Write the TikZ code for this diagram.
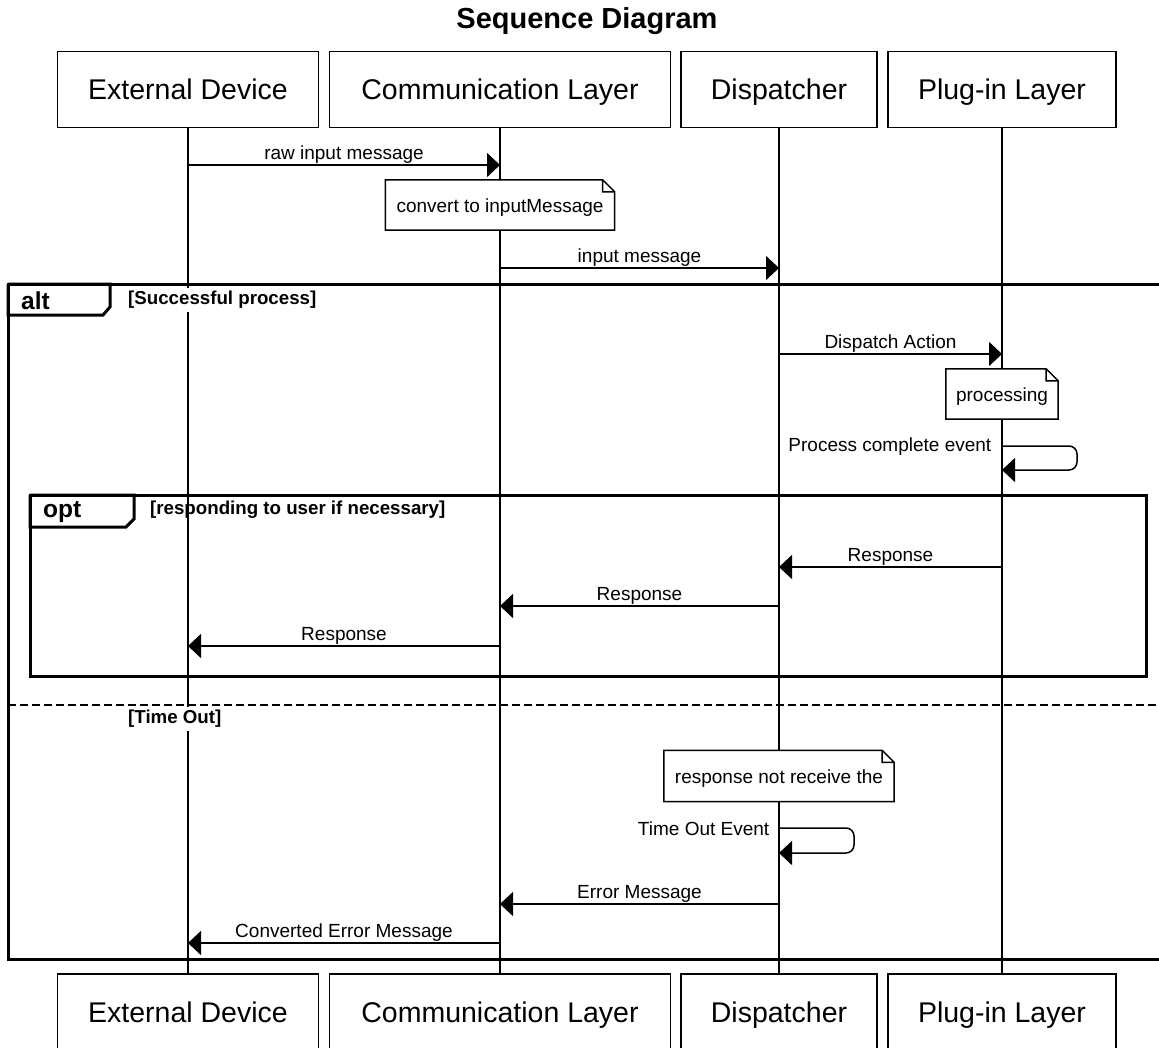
\documentclass[tikz,border=0pt]{standalone}
\usepackage{fontspec}
\setmainfont{Liberation Sans}
\usetikzlibrary{arrows.meta}

% folded outline of a note node
\newcommand\notefold[1]{%
  \draw[line width=1.5] (#1.north west) -- ([xshift=-12]#1.north east) -- ([yshift=-12]#1.north east)
    -- (#1.south east) -- (#1.south west) -- cycle
    ([xshift=-12]#1.north east) |- ([yshift=-12]#1.north east);}

\tikzset{
  actor/.style={draw, line width=1.5, minimum height=76, inner sep=0, text height=20.5, text depth=0,
    font=\fontsize{28.5}{32}\selectfont},
  lifeline/.style={line width=1.5},
  msg/.style={line width=1.5, -{Triangle[length=13pt,width=24pt]}},
  msglabel/.style={font=\fontsize{19}{22}\selectfont, inner sep=1},
  note/.style={fill=white, minimum height=50, inner sep=0, text height=14, text depth=0,
    font=\fontsize{19}{22}\selectfont},
  frame/.style={line width=3},
  tablabel/.style={font=\bfseries\fontsize{24.5}{28}\selectfont, inner sep=3},
  guard/.style={font=\bfseries\fontsize{18.7}{22}\selectfont, inner sep=3}
}

\begin{document}
\begin{tikzpicture}[x=1pt, y=-1pt]
    \useasboundingbox (0,0) rectangle (1159,1047);

    \node[font=\bfseries\fontsize{29}{33}\selectfont] (title) at (587,21) {Sequence Diagram};

    % participants, top and bottom
    \node[actor, minimum width=261] (ext) at (188,89.5) {External Device};
    \node[actor, minimum width=341] (comm) at (500,89.5) {Communication Layer};
    \node[actor, minimum width=196] (disp) at (779,89.5) {Dispatcher};
    \node[actor, minimum width=228] (plug) at (1002,89.5) {Plug-in Layer};
    \node[actor, minimum width=261] (ext2) at (188,1012) {External Device};
    \node[actor, minimum width=341] (comm2) at (500,1012) {Communication Layer};
    \node[actor, minimum width=196] (disp2) at (779,1012) {Dispatcher};
    \node[actor, minimum width=228] (plug2) at (1002,1012) {Plug-in Layer};

    \draw[lifeline] (ext) -- (ext2);
    \draw[lifeline] (comm) -- (comm2);
    \draw[lifeline] (disp) -- (disp2);
    \draw[lifeline] (plug) -- (plug2);

    % message rows
    \coordinate (raw) at (0,165);
    \coordinate (input) at (0,268);
    \coordinate (dispatch) at (0,354);
    \coordinate (pce) at (0,446);
    \coordinate (pce-back) at (0,470);
    \coordinate (resp1) at (0,567);
    \coordinate (resp2) at (0,606);
    \coordinate (resp3) at (0,646);
    \coordinate (tout) at (0,828);
    \coordinate (tout-back) at (0,853);
    \coordinate (err) at (0,904);
    \coordinate (converr) at (0,943);

    % alt frame
    \coordinate (alt-nw) at (8,284);
    \coordinate (alt-se) at (1180,959);
    \draw[frame] (alt-nw) rectangle (alt-se);
    \draw[frame] (alt-nw) -| ++(102,23) -- ++(-7,8) -| (alt-nw);
    \node[tablabel, anchor=west] (alt) at (18,301) {alt};
    \node[guard, anchor=west, fill=white] (success) at (125,300) {[Successful process]};
    \draw[frame, line width=2.5, dash pattern=on 8pt off 4pt] (8,705) coordinate (else-w) -- (1180,705) coordinate (else-e);
    \node[guard, anchor=west, fill=white] (timeout) at (125,719) {[Time Out]};

    % opt frame
    \coordinate (opt-nw) at (30,495);
    \coordinate (opt-se) at (1146,676);
    \draw[frame] (opt-nw) rectangle (opt-se);
    \draw[frame] (opt-nw) -| ++(104,24) -- ++(-8,8) -| (opt-nw);
    \node[tablabel, anchor=west] (opt) at (40,512) {opt};
    \node[guard, anchor=west] (responding) at (147,510) {[responding to user if necessary]};

    % notes
    \node[note, minimum width=229] (convert) at (500,205) {convert to inputMessage};
    \notefold{convert}
    \node[note, minimum width=112] (processing) at (1002,394) {processing};
    \notefold{processing}
    \node[note, minimum width=230, minimum height=51] (noresp) at (779,776) {response not receive the};
    \notefold{noresp}

    % messages
    \draw[msg] (ext |- raw) -- node[msglabel, above] (raw-l) {raw input message} (comm |- raw);
    \draw[msg] (comm |- input) -- node[msglabel, above] (input-l) {input message} (disp |- input);
    \draw[msg] (disp |- dispatch) -- node[msglabel, above] (dispatch-l) {Dispatch Action} (plug |- dispatch);
    \draw[msg, rounded corners=8] (plug |- pce) node[msglabel, anchor=east, xshift=-9, yshift=-1] (pce-l) {Process complete event}
        -- ++(75,0) |- (plug |- pce-back);
    \draw[msg] (plug |- resp1) -- node[msglabel, above] (resp1-l) {Response} (disp |- resp1);
    \draw[msg] (disp |- resp2) -- node[msglabel, above] (resp2-l) {Response} (comm |- resp2);
    \draw[msg] (comm |- resp3) -- node[msglabel, above] (resp3-l) {Response} (ext |- resp3);
    \draw[msg, rounded corners=8] (disp |- tout) node[msglabel, anchor=east, xshift=-8, yshift=-1] (tout-l) {Time Out Event}
        -- ++(75,0) |- (disp |- tout-back);
    \draw[msg] (disp |- err) -- node[msglabel, above] (err-l) {Error Message} (comm |- err);
    \draw[msg] (comm |- converr) -- node[msglabel, above] (converr-l) {Converted Error Message} (ext |- converr);
  \end{tikzpicture}
\end{document}
